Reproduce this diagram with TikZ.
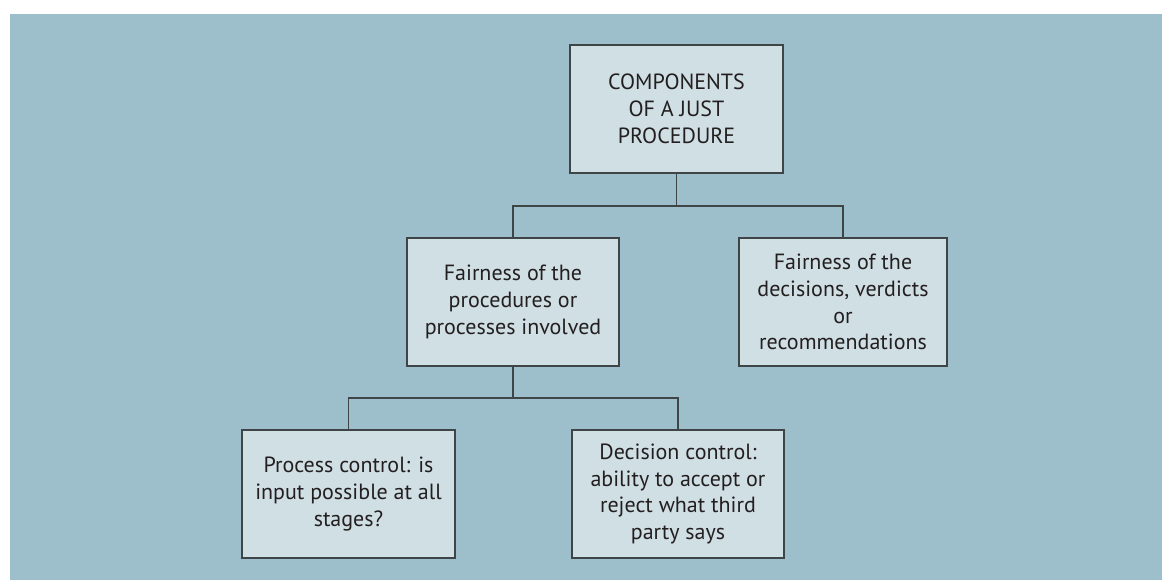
\documentclass[tikz,border=0pt]{standalone}
\usepackage{fontspec}
\setmainfont{PT Sans}
\definecolor{bgblue}{HTML}{9DBFCB}
\definecolor{boxfill}{HTML}{D0DFE4}
\definecolor{lineclr}{HTML}{3F4447}
\definecolor{txtclr}{HTML}{231F20}
\begin{document}
\begin{tikzpicture}[x=1pt,y=-1pt,
  boxnode/.style={draw=lineclr, line width=1.4pt, fill=boxfill, rectangle,
    minimum height=128pt, inner sep=0pt, align=center, text=txtclr,
    font=\fontsize{22}{26.7}\selectfont},
  link/.style={draw=lineclr, line width=1.4pt}]
\useasboundingbox (0,0) rectangle (1162,580);
\fill[bgblue] (10,14) rectangle (1162,580);
\node[boxnode, minimum width=213pt] (top) at (676.5,109) {COMPONENTS\\OF A JUST\\PROCEDURE};
\node[boxnode, minimum width=212pt] (midL) at (513,302) {Fairness of the\\procedures or\\processes involved};
\node[boxnode, minimum width=208pt] (midR) at (843,302) {Fairness of the\\decisions, verdicts\\or\\recommendations};
\node[boxnode, minimum width=213pt] (botL) at (348.5,494) {Process control: is\\input possible at all\\stages?};
\node[boxnode, minimum width=212pt] (botR) at (678,494) {Decision control:\\ability to accept or\\reject what third\\party says};
\coordinate (j1) at (676.5,206);
\coordinate (j2) at (513,398);
\draw[link] (top.south) -- (j1);
\draw[link] (midL.north) |- (j1) -| (midR.north);
\draw[link] (midL.south) -- (j2);
\draw[link] (botL.north) |- (j2) -| (botR.north);
\end{tikzpicture}
\end{document}
